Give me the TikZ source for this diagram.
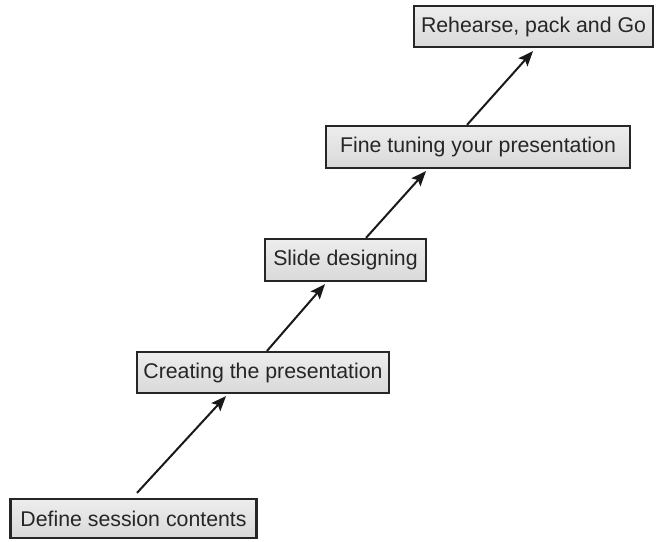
\documentclass[tikz,border=0pt]{standalone}
\usepackage{fontspec}
\setmainfont{Liberation Sans}
\usetikzlibrary{arrows.meta}
\begin{document}
\begin{tikzpicture}[x=1pt,y=-1pt,
  stagebox/.style={draw=black!85, line width=2.2pt, top color=gray!14, bottom color=gray!30,
    inner sep=0pt, text=black!85, font=\fontsize{21.3}{24}\selectfont},
  arr/.style={line width=2pt, draw=black!90, -{Stealth[length=15pt,width=12pt,inset=3pt]}}]
\useasboundingbox (0,0) rectangle (656,541);
\node[stagebox, minimum width=246pt, minimum height=39pt] (b1) at (133.5,518.5) {Define session contents};
\node[stagebox, minimum width=252pt, minimum height=41pt] (b2) at (263,372.5) {Creating the presentation};
\node[stagebox, minimum width=161pt, minimum height=42pt] (b3) at (345.5,260) {Slide designing};
\node[stagebox, minimum width=304pt, minimum height=42pt] (b4) at (478,147) {Fine tuning your presentation};
\node[stagebox, minimum width=239pt, minimum height=41pt] (b5) at (533.5,26.5) {Rehearse, pack and Go};
\draw[arr] ([xshift=3.5pt,yshift=5pt]b1.north) -- ([xshift=-37pt,yshift=-2pt]b2.south);
\draw[arr] ([xshift=4pt]b2.north) -- ([xshift=-20.5pt,yshift=-2pt]b3.south);
\draw[arr] ([xshift=20.5pt]b3.north) -- ([xshift=-52pt,yshift=-2pt]b4.south);
\draw[arr] ([xshift=-11pt]b4.north) -- ([xshift=-0.5pt,yshift=-3pt]b5.south);
\end{tikzpicture}
\end{document}
